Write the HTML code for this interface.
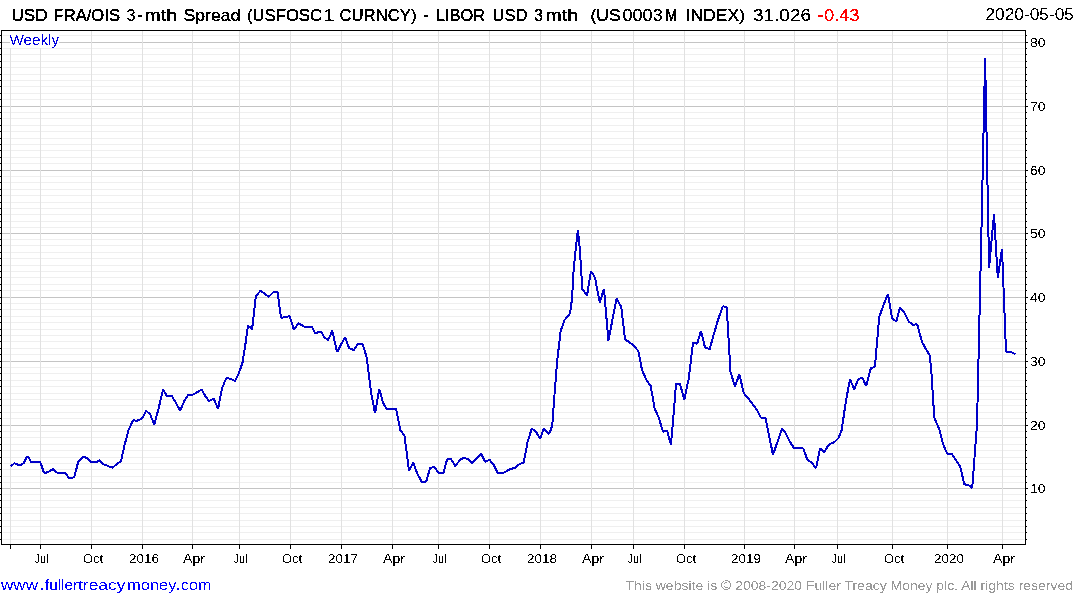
<!DOCTYPE html>
<html><head><meta charset="utf-8"><title>chart</title>
<style>
html,body{margin:0;padding:0;background:#fff;}
body{width:1075px;height:600px;overflow:hidden;}
svg{display:block;}
text{font-family:"Liberation Sans",sans-serif;}
</style></head><body>
<svg width="1075" height="600" viewBox="0 0 1075 600">
<rect x="0" y="0" width="1075" height="600" fill="#fff"/>
<defs><filter id="th" x="0" y="0" width="100%" height="100%" filterUnits="userSpaceOnUse" color-interpolation-filters="sRGB"><feComponentTransfer><feFuncA type="discrete" tableValues="0 0 1 1"/></feComponentTransfer></filter><filter id="th2" x="0" y="0" width="100%" height="100%" filterUnits="userSpaceOnUse" color-interpolation-filters="sRGB"><feComponentTransfer><feFuncA type="discrete" tableValues="0 1 1 1"/></feComponentTransfer></filter><filter id="th3" x="0" y="0" width="100%" height="100%" filterUnits="userSpaceOnUse" color-interpolation-filters="sRGB"><feComponentTransfer><feFuncA type="discrete" tableValues="0 0 0 1 1 1 1 1"/></feComponentTransfer></filter></defs>
<g shape-rendering="crispEdges">
<rect x="3" y="539" width="1021" height="1" fill="#efefef"/>
<rect x="3" y="532" width="1021" height="1" fill="#efefef"/>
<rect x="3" y="526" width="1021" height="1" fill="#efefef"/>
<rect x="3" y="520" width="1021" height="1" fill="#efefef"/>
<rect x="3" y="513" width="1021" height="1" fill="#efefef"/>
<rect x="3" y="507" width="1021" height="1" fill="#efefef"/>
<rect x="3" y="500" width="1021" height="1" fill="#efefef"/>
<rect x="3" y="494" width="1021" height="1" fill="#efefef"/>
<rect x="2" y="488" width="1023" height="1" fill="#c4c4c4"/>
<rect x="3" y="482" width="1021" height="1" fill="#efefef"/>
<rect x="3" y="476" width="1021" height="1" fill="#efefef"/>
<rect x="3" y="469" width="1021" height="1" fill="#efefef"/>
<rect x="3" y="463" width="1021" height="1" fill="#efefef"/>
<rect x="3" y="457" width="1021" height="1" fill="#efefef"/>
<rect x="3" y="450" width="1021" height="1" fill="#efefef"/>
<rect x="3" y="444" width="1021" height="1" fill="#efefef"/>
<rect x="3" y="437" width="1021" height="1" fill="#efefef"/>
<rect x="3" y="431" width="1021" height="1" fill="#efefef"/>
<rect x="2" y="425" width="1023" height="1" fill="#c4c4c4"/>
<rect x="3" y="418" width="1021" height="1" fill="#efefef"/>
<rect x="3" y="412" width="1021" height="1" fill="#efefef"/>
<rect x="3" y="405" width="1021" height="1" fill="#efefef"/>
<rect x="3" y="399" width="1021" height="1" fill="#efefef"/>
<rect x="3" y="393" width="1021" height="1" fill="#efefef"/>
<rect x="3" y="386" width="1021" height="1" fill="#efefef"/>
<rect x="3" y="380" width="1021" height="1" fill="#efefef"/>
<rect x="3" y="373" width="1021" height="1" fill="#efefef"/>
<rect x="3" y="367" width="1021" height="1" fill="#efefef"/>
<rect x="2" y="361" width="1023" height="1" fill="#c4c4c4"/>
<rect x="3" y="354" width="1021" height="1" fill="#efefef"/>
<rect x="3" y="348" width="1021" height="1" fill="#efefef"/>
<rect x="3" y="341" width="1021" height="1" fill="#efefef"/>
<rect x="3" y="335" width="1021" height="1" fill="#efefef"/>
<rect x="3" y="329" width="1021" height="1" fill="#efefef"/>
<rect x="3" y="322" width="1021" height="1" fill="#efefef"/>
<rect x="3" y="316" width="1021" height="1" fill="#efefef"/>
<rect x="3" y="309" width="1021" height="1" fill="#efefef"/>
<rect x="3" y="303" width="1021" height="1" fill="#efefef"/>
<rect x="2" y="297" width="1023" height="1" fill="#c4c4c4"/>
<rect x="3" y="290" width="1021" height="1" fill="#efefef"/>
<rect x="3" y="284" width="1021" height="1" fill="#efefef"/>
<rect x="3" y="277" width="1021" height="1" fill="#efefef"/>
<rect x="3" y="271" width="1021" height="1" fill="#efefef"/>
<rect x="3" y="265" width="1021" height="1" fill="#efefef"/>
<rect x="3" y="258" width="1021" height="1" fill="#efefef"/>
<rect x="3" y="252" width="1021" height="1" fill="#efefef"/>
<rect x="3" y="245" width="1021" height="1" fill="#efefef"/>
<rect x="3" y="239" width="1021" height="1" fill="#efefef"/>
<rect x="2" y="233" width="1023" height="1" fill="#c4c4c4"/>
<rect x="3" y="227" width="1021" height="1" fill="#efefef"/>
<rect x="3" y="221" width="1021" height="1" fill="#efefef"/>
<rect x="3" y="214" width="1021" height="1" fill="#efefef"/>
<rect x="3" y="208" width="1021" height="1" fill="#efefef"/>
<rect x="3" y="202" width="1021" height="1" fill="#efefef"/>
<rect x="3" y="195" width="1021" height="1" fill="#efefef"/>
<rect x="3" y="189" width="1021" height="1" fill="#efefef"/>
<rect x="3" y="182" width="1021" height="1" fill="#efefef"/>
<rect x="3" y="176" width="1021" height="1" fill="#efefef"/>
<rect x="2" y="170" width="1023" height="1" fill="#c4c4c4"/>
<rect x="3" y="163" width="1021" height="1" fill="#efefef"/>
<rect x="3" y="157" width="1021" height="1" fill="#efefef"/>
<rect x="3" y="150" width="1021" height="1" fill="#efefef"/>
<rect x="3" y="144" width="1021" height="1" fill="#efefef"/>
<rect x="3" y="138" width="1021" height="1" fill="#efefef"/>
<rect x="3" y="131" width="1021" height="1" fill="#efefef"/>
<rect x="3" y="125" width="1021" height="1" fill="#efefef"/>
<rect x="3" y="118" width="1021" height="1" fill="#efefef"/>
<rect x="3" y="112" width="1021" height="1" fill="#efefef"/>
<rect x="2" y="106" width="1023" height="1" fill="#c4c4c4"/>
<rect x="3" y="99" width="1021" height="1" fill="#efefef"/>
<rect x="3" y="93" width="1021" height="1" fill="#efefef"/>
<rect x="3" y="86" width="1021" height="1" fill="#efefef"/>
<rect x="3" y="80" width="1021" height="1" fill="#efefef"/>
<rect x="3" y="74" width="1021" height="1" fill="#efefef"/>
<rect x="3" y="67" width="1021" height="1" fill="#efefef"/>
<rect x="3" y="61" width="1021" height="1" fill="#efefef"/>
<rect x="3" y="54" width="1021" height="1" fill="#efefef"/>
<rect x="3" y="48" width="1021" height="1" fill="#efefef"/>
<rect x="2" y="42" width="1023" height="1" fill="#c4c4c4"/>
<rect x="3" y="35" width="1021" height="1" fill="#efefef"/>
<rect x="10" y="31" width="1" height="513" fill="#e1e1e1"/>
<rect x="40" y="31" width="1" height="513" fill="#e1e1e1"/>
<rect x="91" y="31" width="1" height="513" fill="#e1e1e1"/>
<rect x="142" y="31" width="1" height="513" fill="#e1e1e1"/>
<rect x="192" y="31" width="1" height="513" fill="#e1e1e1"/>
<rect x="239" y="31" width="1" height="513" fill="#e1e1e1"/>
<rect x="290" y="31" width="1" height="513" fill="#e1e1e1"/>
<rect x="341" y="31" width="1" height="513" fill="#e1e1e1"/>
<rect x="392" y="31" width="1" height="513" fill="#e1e1e1"/>
<rect x="438" y="31" width="1" height="513" fill="#e1e1e1"/>
<rect x="489" y="31" width="1" height="513" fill="#e1e1e1"/>
<rect x="540" y="31" width="1" height="513" fill="#e1e1e1"/>
<rect x="591" y="31" width="1" height="513" fill="#e1e1e1"/>
<rect x="633" y="31" width="1" height="513" fill="#e1e1e1"/>
<rect x="684" y="31" width="1" height="513" fill="#e1e1e1"/>
<rect x="744" y="31" width="1" height="513" fill="#e1e1e1"/>
<rect x="794" y="31" width="1" height="513" fill="#e1e1e1"/>
<rect x="837" y="31" width="1" height="513" fill="#e1e1e1"/>
<rect x="892" y="31" width="1" height="513" fill="#e1e1e1"/>
<rect x="947" y="31" width="1" height="513" fill="#e1e1e1"/>
<rect x="1002" y="31" width="1" height="513" fill="#e1e1e1"/>
<rect x="10" y="31" width="49" height="17" fill="#fff"/>
<rect x="1" y="30" width="1025" height="1" fill="#000"/>
<rect x="1" y="544" width="1025" height="1" fill="#000"/>
<rect x="1" y="30" width="1" height="515" fill="#000"/>
<rect x="1025" y="30" width="1" height="515" fill="#000"/>
<rect x="1026" y="539" width="1" height="1" fill="#000"/>
<rect x="0" y="539" width="1" height="1" fill="#000"/>
<rect x="1026" y="532" width="1" height="1" fill="#000"/>
<rect x="0" y="532" width="1" height="1" fill="#000"/>
<rect x="1026" y="526" width="1" height="1" fill="#000"/>
<rect x="0" y="526" width="1" height="1" fill="#000"/>
<rect x="1026" y="520" width="1" height="1" fill="#000"/>
<rect x="0" y="520" width="1" height="1" fill="#000"/>
<rect x="1026" y="513" width="1" height="1" fill="#000"/>
<rect x="0" y="513" width="1" height="1" fill="#000"/>
<rect x="1026" y="507" width="1" height="1" fill="#000"/>
<rect x="0" y="507" width="1" height="1" fill="#000"/>
<rect x="1026" y="500" width="1" height="1" fill="#000"/>
<rect x="0" y="500" width="1" height="1" fill="#000"/>
<rect x="1026" y="494" width="1" height="1" fill="#000"/>
<rect x="0" y="494" width="1" height="1" fill="#000"/>
<rect x="1026" y="488" width="2" height="1" fill="#000"/>
<rect x="0" y="488" width="1" height="1" fill="#000"/>
<rect x="1026" y="482" width="1" height="1" fill="#000"/>
<rect x="0" y="482" width="1" height="1" fill="#000"/>
<rect x="1026" y="476" width="1" height="1" fill="#000"/>
<rect x="0" y="476" width="1" height="1" fill="#000"/>
<rect x="1026" y="469" width="1" height="1" fill="#000"/>
<rect x="0" y="469" width="1" height="1" fill="#000"/>
<rect x="1026" y="463" width="1" height="1" fill="#000"/>
<rect x="0" y="463" width="1" height="1" fill="#000"/>
<rect x="1026" y="457" width="1" height="1" fill="#000"/>
<rect x="0" y="457" width="1" height="1" fill="#000"/>
<rect x="1026" y="450" width="1" height="1" fill="#000"/>
<rect x="0" y="450" width="1" height="1" fill="#000"/>
<rect x="1026" y="444" width="1" height="1" fill="#000"/>
<rect x="0" y="444" width="1" height="1" fill="#000"/>
<rect x="1026" y="437" width="1" height="1" fill="#000"/>
<rect x="0" y="437" width="1" height="1" fill="#000"/>
<rect x="1026" y="431" width="1" height="1" fill="#000"/>
<rect x="0" y="431" width="1" height="1" fill="#000"/>
<rect x="1026" y="425" width="2" height="1" fill="#000"/>
<rect x="0" y="425" width="1" height="1" fill="#000"/>
<rect x="1026" y="418" width="1" height="1" fill="#000"/>
<rect x="0" y="418" width="1" height="1" fill="#000"/>
<rect x="1026" y="412" width="1" height="1" fill="#000"/>
<rect x="0" y="412" width="1" height="1" fill="#000"/>
<rect x="1026" y="405" width="1" height="1" fill="#000"/>
<rect x="0" y="405" width="1" height="1" fill="#000"/>
<rect x="1026" y="399" width="1" height="1" fill="#000"/>
<rect x="0" y="399" width="1" height="1" fill="#000"/>
<rect x="1026" y="393" width="1" height="1" fill="#000"/>
<rect x="0" y="393" width="1" height="1" fill="#000"/>
<rect x="1026" y="386" width="1" height="1" fill="#000"/>
<rect x="0" y="386" width="1" height="1" fill="#000"/>
<rect x="1026" y="380" width="1" height="1" fill="#000"/>
<rect x="0" y="380" width="1" height="1" fill="#000"/>
<rect x="1026" y="373" width="1" height="1" fill="#000"/>
<rect x="0" y="373" width="1" height="1" fill="#000"/>
<rect x="1026" y="367" width="1" height="1" fill="#000"/>
<rect x="0" y="367" width="1" height="1" fill="#000"/>
<rect x="1026" y="361" width="2" height="1" fill="#000"/>
<rect x="0" y="361" width="1" height="1" fill="#000"/>
<rect x="1026" y="354" width="1" height="1" fill="#000"/>
<rect x="0" y="354" width="1" height="1" fill="#000"/>
<rect x="1026" y="348" width="1" height="1" fill="#000"/>
<rect x="0" y="348" width="1" height="1" fill="#000"/>
<rect x="1026" y="341" width="1" height="1" fill="#000"/>
<rect x="0" y="341" width="1" height="1" fill="#000"/>
<rect x="1026" y="335" width="1" height="1" fill="#000"/>
<rect x="0" y="335" width="1" height="1" fill="#000"/>
<rect x="1026" y="329" width="1" height="1" fill="#000"/>
<rect x="0" y="329" width="1" height="1" fill="#000"/>
<rect x="1026" y="322" width="1" height="1" fill="#000"/>
<rect x="0" y="322" width="1" height="1" fill="#000"/>
<rect x="1026" y="316" width="1" height="1" fill="#000"/>
<rect x="0" y="316" width="1" height="1" fill="#000"/>
<rect x="1026" y="309" width="1" height="1" fill="#000"/>
<rect x="0" y="309" width="1" height="1" fill="#000"/>
<rect x="1026" y="303" width="1" height="1" fill="#000"/>
<rect x="0" y="303" width="1" height="1" fill="#000"/>
<rect x="1026" y="297" width="2" height="1" fill="#000"/>
<rect x="0" y="297" width="1" height="1" fill="#000"/>
<rect x="1026" y="290" width="1" height="1" fill="#000"/>
<rect x="0" y="290" width="1" height="1" fill="#000"/>
<rect x="1026" y="284" width="1" height="1" fill="#000"/>
<rect x="0" y="284" width="1" height="1" fill="#000"/>
<rect x="1026" y="277" width="1" height="1" fill="#000"/>
<rect x="0" y="277" width="1" height="1" fill="#000"/>
<rect x="1026" y="271" width="1" height="1" fill="#000"/>
<rect x="0" y="271" width="1" height="1" fill="#000"/>
<rect x="1026" y="265" width="1" height="1" fill="#000"/>
<rect x="0" y="265" width="1" height="1" fill="#000"/>
<rect x="1026" y="258" width="1" height="1" fill="#000"/>
<rect x="0" y="258" width="1" height="1" fill="#000"/>
<rect x="1026" y="252" width="1" height="1" fill="#000"/>
<rect x="0" y="252" width="1" height="1" fill="#000"/>
<rect x="1026" y="245" width="1" height="1" fill="#000"/>
<rect x="0" y="245" width="1" height="1" fill="#000"/>
<rect x="1026" y="239" width="1" height="1" fill="#000"/>
<rect x="0" y="239" width="1" height="1" fill="#000"/>
<rect x="1026" y="233" width="2" height="1" fill="#000"/>
<rect x="0" y="233" width="1" height="1" fill="#000"/>
<rect x="1026" y="227" width="1" height="1" fill="#000"/>
<rect x="0" y="227" width="1" height="1" fill="#000"/>
<rect x="1026" y="221" width="1" height="1" fill="#000"/>
<rect x="0" y="221" width="1" height="1" fill="#000"/>
<rect x="1026" y="214" width="1" height="1" fill="#000"/>
<rect x="0" y="214" width="1" height="1" fill="#000"/>
<rect x="1026" y="208" width="1" height="1" fill="#000"/>
<rect x="0" y="208" width="1" height="1" fill="#000"/>
<rect x="1026" y="202" width="1" height="1" fill="#000"/>
<rect x="0" y="202" width="1" height="1" fill="#000"/>
<rect x="1026" y="195" width="1" height="1" fill="#000"/>
<rect x="0" y="195" width="1" height="1" fill="#000"/>
<rect x="1026" y="189" width="1" height="1" fill="#000"/>
<rect x="0" y="189" width="1" height="1" fill="#000"/>
<rect x="1026" y="182" width="1" height="1" fill="#000"/>
<rect x="0" y="182" width="1" height="1" fill="#000"/>
<rect x="1026" y="176" width="1" height="1" fill="#000"/>
<rect x="0" y="176" width="1" height="1" fill="#000"/>
<rect x="1026" y="170" width="2" height="1" fill="#000"/>
<rect x="0" y="170" width="1" height="1" fill="#000"/>
<rect x="1026" y="163" width="1" height="1" fill="#000"/>
<rect x="0" y="163" width="1" height="1" fill="#000"/>
<rect x="1026" y="157" width="1" height="1" fill="#000"/>
<rect x="0" y="157" width="1" height="1" fill="#000"/>
<rect x="1026" y="150" width="1" height="1" fill="#000"/>
<rect x="0" y="150" width="1" height="1" fill="#000"/>
<rect x="1026" y="144" width="1" height="1" fill="#000"/>
<rect x="0" y="144" width="1" height="1" fill="#000"/>
<rect x="1026" y="138" width="1" height="1" fill="#000"/>
<rect x="0" y="138" width="1" height="1" fill="#000"/>
<rect x="1026" y="131" width="1" height="1" fill="#000"/>
<rect x="0" y="131" width="1" height="1" fill="#000"/>
<rect x="1026" y="125" width="1" height="1" fill="#000"/>
<rect x="0" y="125" width="1" height="1" fill="#000"/>
<rect x="1026" y="118" width="1" height="1" fill="#000"/>
<rect x="0" y="118" width="1" height="1" fill="#000"/>
<rect x="1026" y="112" width="1" height="1" fill="#000"/>
<rect x="0" y="112" width="1" height="1" fill="#000"/>
<rect x="1026" y="106" width="2" height="1" fill="#000"/>
<rect x="0" y="106" width="1" height="1" fill="#000"/>
<rect x="1026" y="99" width="1" height="1" fill="#000"/>
<rect x="0" y="99" width="1" height="1" fill="#000"/>
<rect x="1026" y="93" width="1" height="1" fill="#000"/>
<rect x="0" y="93" width="1" height="1" fill="#000"/>
<rect x="1026" y="86" width="1" height="1" fill="#000"/>
<rect x="0" y="86" width="1" height="1" fill="#000"/>
<rect x="1026" y="80" width="1" height="1" fill="#000"/>
<rect x="0" y="80" width="1" height="1" fill="#000"/>
<rect x="1026" y="74" width="1" height="1" fill="#000"/>
<rect x="0" y="74" width="1" height="1" fill="#000"/>
<rect x="1026" y="67" width="1" height="1" fill="#000"/>
<rect x="0" y="67" width="1" height="1" fill="#000"/>
<rect x="1026" y="61" width="1" height="1" fill="#000"/>
<rect x="0" y="61" width="1" height="1" fill="#000"/>
<rect x="1026" y="54" width="1" height="1" fill="#000"/>
<rect x="0" y="54" width="1" height="1" fill="#000"/>
<rect x="1026" y="48" width="1" height="1" fill="#000"/>
<rect x="0" y="48" width="1" height="1" fill="#000"/>
<rect x="1026" y="42" width="2" height="1" fill="#000"/>
<rect x="0" y="42" width="1" height="1" fill="#000"/>
<rect x="1026" y="35" width="1" height="1" fill="#000"/>
<rect x="0" y="35" width="1" height="1" fill="#000"/>
<rect x="10" y="545" width="1" height="4" fill="#000"/>
<rect x="40" y="545" width="1" height="4" fill="#000"/>
<rect x="91" y="545" width="1" height="4" fill="#000"/>
<rect x="142" y="545" width="1" height="4" fill="#000"/>
<rect x="192" y="545" width="1" height="4" fill="#000"/>
<rect x="239" y="545" width="1" height="4" fill="#000"/>
<rect x="290" y="545" width="1" height="4" fill="#000"/>
<rect x="341" y="545" width="1" height="4" fill="#000"/>
<rect x="392" y="545" width="1" height="4" fill="#000"/>
<rect x="438" y="545" width="1" height="4" fill="#000"/>
<rect x="489" y="545" width="1" height="4" fill="#000"/>
<rect x="540" y="545" width="1" height="4" fill="#000"/>
<rect x="591" y="545" width="1" height="4" fill="#000"/>
<rect x="633" y="545" width="1" height="4" fill="#000"/>
<rect x="684" y="545" width="1" height="4" fill="#000"/>
<rect x="744" y="545" width="1" height="4" fill="#000"/>
<rect x="794" y="545" width="1" height="4" fill="#000"/>
<rect x="837" y="545" width="1" height="4" fill="#000"/>
<rect x="892" y="545" width="1" height="4" fill="#000"/>
<rect x="947" y="545" width="1" height="4" fill="#000"/>
<rect x="1002" y="545" width="1" height="4" fill="#000"/>
</g>
<polyline points="10.8,466.5 14.4,463.2 18.1,464.7 21.1,464.7 23.6,463.2 26.9,456.6 28.1,456.6 31.0,462.0 40.2,462.0 44.0,472.7 46.2,472.7 49.2,471.4 53.3,469.0 57.1,472.7 65.3,472.7 68.8,477.7 72.4,477.7 74.4,476.7 78.2,462.0 82.4,457.1 86.2,457.6 91.0,462.0 96.5,462.0 99.5,460.2 103.5,464.2 108.0,466.0 112.3,467.7 121.0,461.0 124.7,444.5 128.5,430.2 133.0,420.2 136.7,420.8 142.0,418.7 146.2,410.7 150.2,414.5 154.3,424.7 158.8,407.7 163.0,389.7 167.2,396.5 171.7,395.7 175.7,402.5 180.2,410.7 184.3,401.0 188.5,394.5 193.0,394.5 197.5,392.0 201.7,389.7 205.0,395.6 209.0,401.0 213.7,398.7 218.1,408.7 221.9,388.7 226.2,378.1 230.6,378.7 235.0,381.0 238.7,373.7 242.5,362.5 245.3,345.0 248.0,325.5 252.1,329.3 255.8,296.3 260.5,290.8 268.8,296.8 273.8,291.7 277.5,291.7 281.0,317.7 284.8,317.4 289.7,316.1 294.0,330.0 298.4,323.1 304.3,326.8 311.9,326.8 315.2,333.6 318.4,332.1 321.4,332.1 324.4,337.5 328.1,340.1 332.3,330.8 337.1,352.1 345.0,337.1 349.1,348.0 353.6,350.1 358.5,343.5 362.6,343.9 366.7,357.3 371.0,392.0 375.0,413.3 379.3,389.0 383.0,402.7 386.7,409.3 391.7,409.0 396.2,409.0 400.3,430.0 404.5,435.7 409.0,470.5 413.2,462.7 417.2,473.5 421.7,481.7 426.2,481.7 430.0,468.2 434.2,466.7 438.7,473.0 443.5,473.0 447.2,459.0 451.0,459.0 455.2,466.0 460.0,460.0 463.7,457.7 468.2,459.2 472.1,463.1 481.1,453.8 485.2,461.9 489.6,459.9 493.3,464.3 497.8,473.0 503.3,473.0 510.3,468.9 514.9,468.1 519.6,463.9 523.7,462.5 527.8,440.9 531.8,428.7 535.9,431.6 540.0,438.9 543.7,428.7 549.3,433.9 552.3,425.2 554.0,401.0 557.0,363.0 560.6,331.0 564.6,320.0 570.0,313.5 572.0,299.0 573.7,269.0 576.3,243.7 577.9,229.7 579.7,247.7 582.3,289.0 587.0,295.7 591.0,271.0 595.0,277.7 599.7,302.3 604.0,289.0 608.4,340.6 616.5,298.7 621.2,306.7 625.0,339.2 632.0,344.2 638.3,350.8 642.0,370.0 646.2,379.5 650.7,386.0 654.7,408.7 658.7,417.3 662.9,431.6 667.3,431.3 670.9,444.7 673.3,418.0 676.0,384.0 680.0,384.0 684.3,399.6 688.8,378.3 693.0,342.5 697.2,343.7 701.0,330.8 705.0,347.5 709.7,349.2 713.8,334.2 718.0,320.0 722.7,306.3 726.7,307.0 730.5,371.7 735.0,386.7 739.3,374.2 743.8,393.3 748.7,399.0 756.6,409.3 760.9,417.7 765.4,417.7 773.0,454.8 782.0,428.8 785.2,432.3 789.9,441.8 793.9,447.8 803.4,448.5 807.4,460.0 811.3,462.4 816.1,468.0 820.0,448.5 824.2,451.9 829.2,444.2 834.2,442.2 838.3,438.3 841.7,430.0 845.8,401.7 850.0,379.2 854.2,389.2 858.0,379.7 862.2,377.5 866.2,385.8 870.8,368.3 875.0,366.7 876.2,351.7 879.2,317.2 883.7,304.5 888.0,294.0 892.0,317.7 896.2,321.7 900.0,307.8 904.0,312.0 908.8,321.7 913.0,324.7 917.2,324.3 922.0,342.0 925.7,348.7 929.8,355.5 931.5,374.0 934.3,417.7 939.2,429.0 943.0,444.0 947.2,453.7 951.7,453.7 960.2,466.5 964.3,484.2 968.5,485.2 972.2,487.8 977.0,425.0 981.4,232.0 985.1,58.0 989.1,267.5 994.0,214.3 997.8,278.0 1002.0,248.7 1006.0,351.5 1011.0,352.2 1015.5,354.0" fill="none" stroke="#0000c8" stroke-width="2" stroke-linejoin="bevel" shape-rendering="crispEdges"/>
<g filter="url(#th)">
<text x="1030" y="493" font-size="12.5" fill="#000" textLength="15.5" lengthAdjust="spacingAndGlyphs">10</text>
<text x="1030" y="430" font-size="12.5" fill="#000" textLength="15.5" lengthAdjust="spacingAndGlyphs">20</text>
<text x="1030" y="366" font-size="12.5" fill="#000" textLength="15.5" lengthAdjust="spacingAndGlyphs">30</text>
<text x="1030" y="302" font-size="12.5" fill="#000" textLength="15.5" lengthAdjust="spacingAndGlyphs">40</text>
<text x="1030" y="238" font-size="12.5" fill="#000" textLength="15.5" lengthAdjust="spacingAndGlyphs">50</text>
<text x="1030" y="175" font-size="12.5" fill="#000" textLength="15.5" lengthAdjust="spacingAndGlyphs">60</text>
<text x="1030" y="111" font-size="12.5" fill="#000" textLength="15.5" lengthAdjust="spacingAndGlyphs">70</text>
<text x="1030" y="47" font-size="12.5" fill="#000" textLength="15.5" lengthAdjust="spacingAndGlyphs">80</text>
<text x="34.5" y="563" font-size="12.5" fill="#000" textLength="14" lengthAdjust="spacingAndGlyphs">Jul</text>
<text x="83.0" y="563" font-size="12.5" fill="#000" textLength="20" lengthAdjust="spacingAndGlyphs">Oct</text>
<text x="129.0" y="563" font-size="12.5" fill="#000" textLength="30" lengthAdjust="spacingAndGlyphs">2016</text>
<text x="183.0" y="563" font-size="12.5" fill="#000" textLength="22" lengthAdjust="spacingAndGlyphs">Apr</text>
<text x="233.5" y="563" font-size="12.5" fill="#000" textLength="14" lengthAdjust="spacingAndGlyphs">Jul</text>
<text x="282.0" y="563" font-size="12.5" fill="#000" textLength="20" lengthAdjust="spacingAndGlyphs">Oct</text>
<text x="328.0" y="563" font-size="12.5" fill="#000" textLength="30" lengthAdjust="spacingAndGlyphs">2017</text>
<text x="383.0" y="563" font-size="12.5" fill="#000" textLength="22" lengthAdjust="spacingAndGlyphs">Apr</text>
<text x="432.5" y="563" font-size="12.5" fill="#000" textLength="14" lengthAdjust="spacingAndGlyphs">Jul</text>
<text x="481.0" y="563" font-size="12.5" fill="#000" textLength="20" lengthAdjust="spacingAndGlyphs">Oct</text>
<text x="527.0" y="563" font-size="12.5" fill="#000" textLength="30" lengthAdjust="spacingAndGlyphs">2018</text>
<text x="582.0" y="563" font-size="12.5" fill="#000" textLength="22" lengthAdjust="spacingAndGlyphs">Apr</text>
<text x="627.5" y="563" font-size="12.5" fill="#000" textLength="14" lengthAdjust="spacingAndGlyphs">Jul</text>
<text x="676.0" y="563" font-size="12.5" fill="#000" textLength="20" lengthAdjust="spacingAndGlyphs">Oct</text>
<text x="731.0" y="563" font-size="12.5" fill="#000" textLength="30" lengthAdjust="spacingAndGlyphs">2019</text>
<text x="785.0" y="563" font-size="12.5" fill="#000" textLength="22" lengthAdjust="spacingAndGlyphs">Apr</text>
<text x="831.5" y="563" font-size="12.5" fill="#000" textLength="14" lengthAdjust="spacingAndGlyphs">Jul</text>
<text x="884.0" y="563" font-size="12.5" fill="#000" textLength="20" lengthAdjust="spacingAndGlyphs">Oct</text>
<text x="934.0" y="563" font-size="12.5" fill="#000" textLength="30" lengthAdjust="spacingAndGlyphs">2020</text>
<text x="993.0" y="563" font-size="12.5" fill="#000" textLength="22" lengthAdjust="spacingAndGlyphs">Apr</text>
<text x="9.5" y="45" font-size="14" fill="#0000e0" textLength="49.5" lengthAdjust="spacingAndGlyphs">Weekly</text>
</g>
<g filter="url(#th2)">
<text x="11.5" y="21" font-size="16.5" fill="#000" textLength="36.0" lengthAdjust="spacingAndGlyphs">USD</text>
<text x="53.5" y="21" font-size="16.5" fill="#000" textLength="66.5" lengthAdjust="spacingAndGlyphs">FRA/OIS</text>
<text x="144.5" y="21" font-size="16.5" fill="#000" textLength="32.5" lengthAdjust="spacingAndGlyphs">mth</text>
<text x="183.5" y="21" font-size="16.5" fill="#000" textLength="57.0" lengthAdjust="spacingAndGlyphs">Spread</text>
<text x="247" y="21" font-size="16.5" fill="#000" textLength="75.0" lengthAdjust="spacingAndGlyphs">(USFOSC</text>
<text x="339.5" y="21" font-size="16.5" fill="#000" textLength="77.0" lengthAdjust="spacingAndGlyphs">CURNCY)</text>
<text x="436" y="21" font-size="16.5" fill="#000" textLength="49.0" lengthAdjust="spacingAndGlyphs">LIBOR</text>
<text x="492.5" y="21" font-size="16.5" fill="#000" textLength="35.0" lengthAdjust="spacingAndGlyphs">USD</text>
<text x="545.5" y="21" font-size="16.5" fill="#000" textLength="32.5" lengthAdjust="spacingAndGlyphs">mth</text>
<text x="590.5" y="21" font-size="16.5" fill="#000" textLength="30.0" lengthAdjust="spacingAndGlyphs">(US</text>
<text x="665.5" y="21" font-size="16.5" fill="#000" textLength="11.5" lengthAdjust="spacingAndGlyphs">M</text>
<text x="685.5" y="21" font-size="16.5" fill="#000" textLength="59.5" lengthAdjust="spacingAndGlyphs">INDEX)</text>
<rect x="138" y="15" width="4" height="2" fill="#000" shape-rendering="crispEdges"/>
<rect x="424" y="15" width="4" height="2" fill="#000" shape-rendering="crispEdges"/>
<rect x="818" y="15" width="4.5" height="2" fill="#ff0000" shape-rendering="crispEdges"/>
</g>
<g filter="url(#th3)">
<text x="126.5" y="21" font-size="16.5" fill="#000" textLength="9.0" lengthAdjust="spacingAndGlyphs">3</text>
<text x="323.5" y="21" font-size="16.5" fill="#000" textLength="11.0" lengthAdjust="spacingAndGlyphs">1</text>
<text x="534" y="21" font-size="16.5" fill="#000" textLength="9.0" lengthAdjust="spacingAndGlyphs">3</text>
<text x="622.5" y="21" font-size="16.5" fill="#000" textLength="40.2" lengthAdjust="spacingAndGlyphs">0003</text>
<text x="753" y="21" font-size="16.5" fill="#000" textLength="58.0" lengthAdjust="spacingAndGlyphs">31.026</text>
<text x="824" y="21" font-size="16.5" fill="#ff0000" textLength="35.5" lengthAdjust="spacingAndGlyphs">0.43</text>
</g>
<g filter="url(#th)">
<text x="985.5" y="20" font-size="16.5" fill="#000" textLength="88.5" lengthAdjust="spacingAndGlyphs">2020-05-05</text>
<text x="1" y="590" font-size="15" fill="#0000ff" textLength="37.0" lengthAdjust="spacingAndGlyphs">www</text>
<text x="45" y="590" font-size="15" fill="#0000ff" textLength="33.0" lengthAdjust="spacingAndGlyphs">fuller</text>
<text x="78" y="590" font-size="15" fill="#0000ff" textLength="47.5" lengthAdjust="spacingAndGlyphs">treacy</text>
<text x="127" y="590" font-size="15" fill="#0000ff" textLength="49.5" lengthAdjust="spacingAndGlyphs">money</text>
<text x="181" y="590" font-size="15" fill="#0000ff" textLength="30.5" lengthAdjust="spacingAndGlyphs">com</text>
<rect x="41" y="588" width="2" height="2" fill="#0000ff" shape-rendering="crispEdges"/>
<rect x="177" y="588" width="2" height="2" fill="#0000ff" shape-rendering="crispEdges"/>
<text x="625.5" y="590" font-size="13" fill="#999999" textLength="447.5" lengthAdjust="spacingAndGlyphs">This website is © 2008-2020 Fuller Treacy Money plc. All rights reserved</text>
</g>
</svg>
</body></html>
